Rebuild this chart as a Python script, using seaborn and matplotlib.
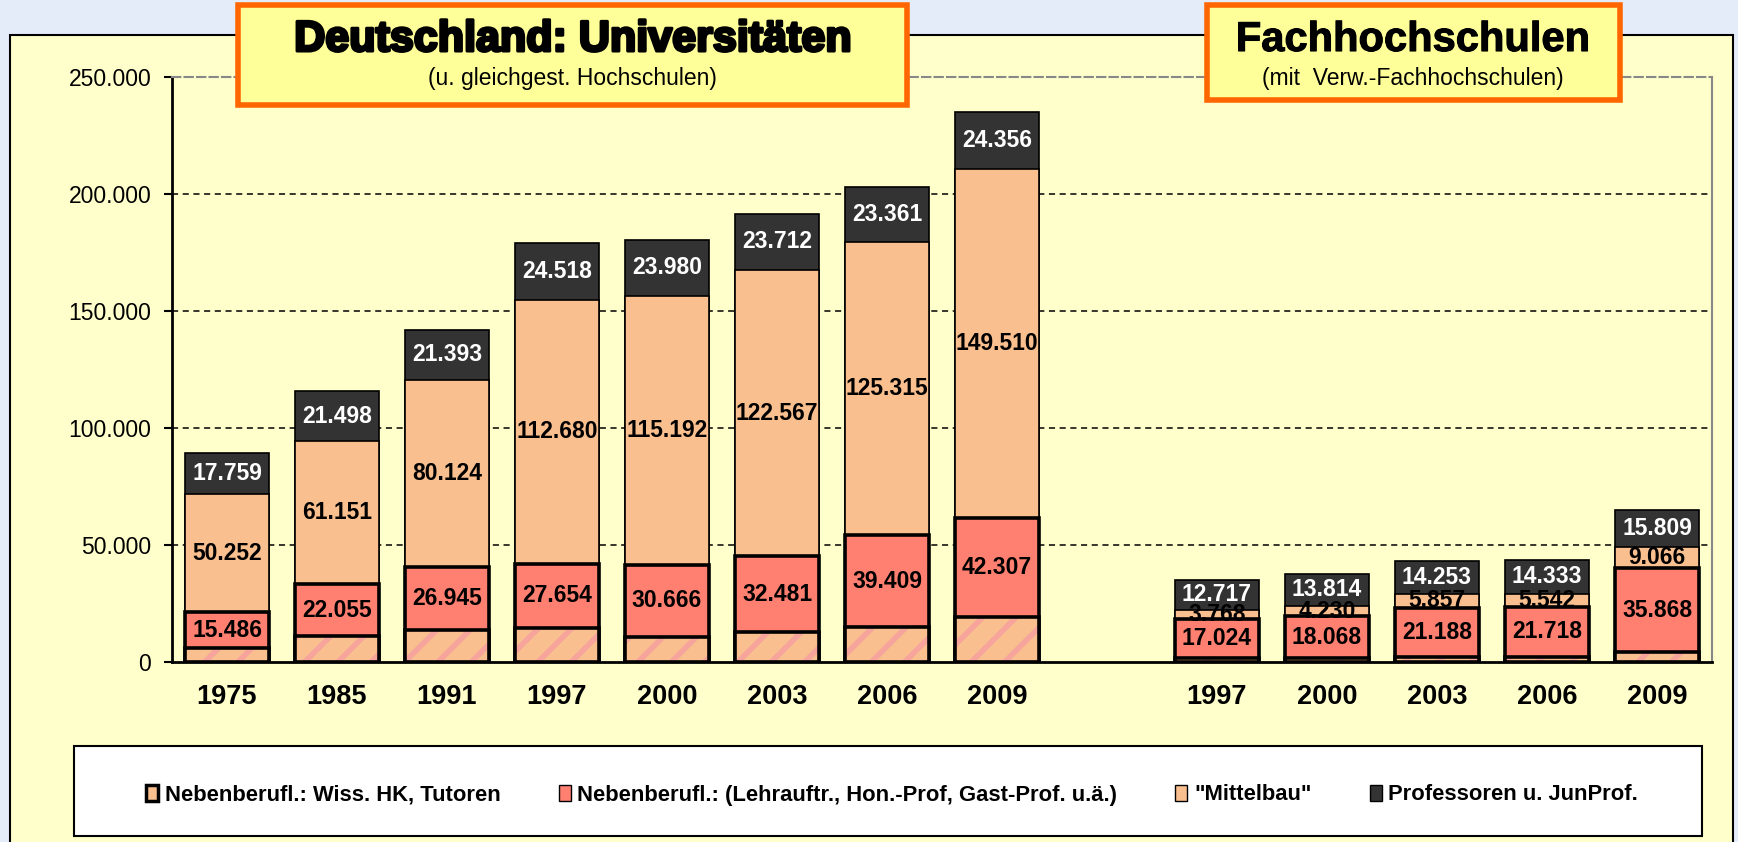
import numpy as np
import pandas as pd
import matplotlib
matplotlib.use("Agg")
import matplotlib.pyplot as plt
import matplotlib.patheffects as pe
from matplotlib.patches import Rectangle, Patch
from matplotlib import font_manager
import seaborn as sns

# Daten (Personal an Hochschulen)
uni_jahre = ["1975", "1985", "1991", "1997", "2000", "2003", "2006", "2009"]
fh_jahre = ["1997", "2000", "2003", "2006", "2009"]

uni_wiss_hk = [5900, 11200, 13600, 14400, 10800, 12700, 14800, 19100]   # geschaetzt, ohne Beschriftung
uni_lehrauftr = [15486, 22055, 26945, 27654, 30666, 32481, 39409, 42307]
uni_mittelbau = [50252, 61151, 80124, 112680, 115192, 122567, 125315, 149510]
uni_prof = [17759, 21498, 21393, 24518, 23980, 23712, 23361, 24356]

fh_wiss_hk = [1500, 1600, 2000, 2000, 4200]   # geschaetzt
fh_lehrauftr = [17024, 18068, 21188, 21718, 35868]
fh_mittelbau = [3768, 4230, 5857, 5542, 9066]
fh_prof = [12717, 13814, 14253, 14333, 15809]

legend_labels = ["Nebenberufl.: Wiss. HK, Tutoren",
                 "Nebenberufl.: (Lehrauftr., Hon.-Prof, Gast-Prof. u.ä.)",
                 '"Mittelbau"',
                 "Professoren u. JunProf."]
y_ticks = [0, 50000, 100000, 150000, 200000, 250000]

# Farben
c_hk = "#F9BF8F"
c_hk_stripe = "#F6A49C"
c_lehr = "#FF7F70"
c_mittel = "#F9BF8F"
c_prof = "#333333"
c_panel = "#FFFFCC"
c_bg = "#E5ECF9"

# Tabelle zusammenbauen
df = pd.DataFrame({
    "slot": ["U" + j for j in uni_jahre] + ["F" + j for j in fh_jahre],
    "jahr": uni_jahre + fh_jahre,
    "hk": uni_wiss_hk + fh_wiss_hk,
    "lehr": uni_lehrauftr + fh_lehrauftr,
    "mittel": uni_mittelbau + fh_mittelbau,
    "prof": uni_prof + fh_prof,
})
df["s1"] = df.hk
df["s2"] = df.s1 + df.lehr
df["s3"] = df.s2 + df.mittel
df["s4"] = df.s3 + df.prof

order = ["U" + j for j in uni_jahre] + ["gap"] + ["F" + j for j in fh_jahre]
tick_names = uni_jahre + [""] + fh_jahre

sns.set_style("white")
avail = {f.name for f in font_manager.fontManager.ttflist}
narrow = "Liberation Sans Narrow" if "Liberation Sans Narrow" in avail else "Liberation Sans"
val_size = 19 if narrow == "Liberation Sans Narrow" else 16.5
plt.rcParams["font.family"] = ["Liberation Sans", "DejaVu Sans"]
plt.rcParams["text.color"] = "black"
plt.rcParams["xtick.color"] = "black"
plt.rcParams["ytick.color"] = "black"
plt.rcParams["hatch.linewidth"] = 4.0

W, H = 1738, 842
fig = plt.figure(figsize=(W / 100, H / 100), dpi=100, facecolor=c_bg)

def fx(px):
    return px / W

def fy(py):
    return 1 - py / H

# gelbe Flaeche mit Rahmen
fig.patches.append(Rectangle((fx(10), -0.01), fx(1733 - 10), fy(35) + 0.01,
                             transform=fig.transFigure, facecolor=c_panel,
                             edgecolor="black", lw=1.5, zorder=-1))

ax = fig.add_axes([fx(172), fy(662), fx(1712 - 172), fy(77.3) - fy(662)])
ax.set_facecolor("none")

bw = 0.76
thin = 1.2
thick = 2.6
sns.barplot(data=df, x="slot", y="s4", order=order, color=c_prof, saturation=1,
            width=bw, edgecolor="black", linewidth=thin, errorbar=None, ax=ax)
sns.barplot(data=df, x="slot", y="s3", order=order, color=c_mittel, saturation=1,
            width=bw, edgecolor="black", linewidth=thin, errorbar=None, ax=ax)
sns.barplot(data=df, x="slot", y="s2", order=order, color=c_lehr, saturation=1,
            width=bw, edgecolor="black", linewidth=thick, errorbar=None, ax=ax)
sns.barplot(data=df, x="slot", y="s1", order=order, color=c_hk, saturation=1,
            width=bw, edgecolor=c_hk_stripe, linewidth=0, hatch="/",
            errorbar=None, ax=ax)
sns.barplot(data=df, x="slot", y="s1", order=order, color="black", fill=False,
            width=bw, linewidth=thick, errorbar=None, ax=ax)

# Werte in die Segmente schreiben
def fmt(v):
    return f"{v:,.0f}".replace(",", ".")

for _, r in df.iterrows():
    xi = order.index(r.slot)
    ax.text(xi, r.s1 + r.lehr / 2, fmt(r.lehr), ha="center", va="center",
            fontsize=val_size, fontweight="bold", family=narrow, color="black", zorder=5)
    ax.text(xi, r.s2 + r.mittel / 2, fmt(r.mittel), ha="center", va="center",
            fontsize=val_size, fontweight="bold", family=narrow, color="black", zorder=5)
    ax.text(xi, r.s3 + r.prof / 2, fmt(r.prof), ha="center", va="center",
            fontsize=val_size, fontweight="bold", family=narrow, color="white", zorder=5)

# Achsen
ax.set_xlim(-0.5, len(order) - 0.5)
ax.set_ylim(0, 250000)
ax.set_xlabel("")
ax.set_ylabel("")
ax.set_xticks(range(len(order)))
ax.set_xticklabels(tick_names, fontsize=19.5, fontweight="bold")
ax.set_xticks(np.arange(-0.5, len(order)), minor=True)
ax.tick_params(axis="x", which="major", length=0, pad=16)
ax.tick_params(axis="x", which="minor", length=6, width=1.5, direction="out", color="black")
ax.set_yticks(y_ticks)
ax.set_yticklabels([fmt(v) for v in y_ticks], fontsize=16.5)
ax.tick_params(axis="y", length=6, width=1.5, direction="out", pad=9, color="black", left=True)
for v in y_ticks[1:-1]:
    ax.axhline(v, color="black", lw=1.1, ls=(0, (4, 3)), zorder=0.5)

for s in ["left", "bottom"]:
    ax.spines[s].set_color("black")
    ax.spines[s].set_linewidth(2)
ax.spines["top"].set_color("#888888")
ax.spines["top"].set_linewidth(1.5)
ax.spines["top"].set_linestyle((0, (4, 2)))
ax.spines["right"].set_color("#888888")
ax.spines["right"].set_linewidth(1.5)

# Titelkaesten
for (x0, x1, y0, y1) in [(238, 907, 5, 105), (1207, 1620, 5, 100)]:
    fig.patches.append(Rectangle((fx(x0), fy(y1)), fx(x1 - x0), fy(y0) - fy(y1),
                                 transform=fig.transFigure, facecolor="#FFFF99",
                                 edgecolor="#FF6600", lw=4, zorder=5))

fig.text(fx(572), fy(40), "Deutschland: Universitäten", ha="center", va="center",
         fontsize=31, fontweight="bold", color="black", zorder=6,
         path_effects=[pe.withStroke(linewidth=2.2, foreground="black")])
fig.text(fx(572), fy(79), "(u. gleichgest. Hochschulen)", ha="center", va="center",
         fontsize=16.5, zorder=6)
fig.text(fx(1413), fy(40), "Fachhochschulen", ha="center", va="center",
         fontsize=30, fontweight="bold", color="black", zorder=6,
         path_effects=[pe.withStroke(linewidth=0.8, foreground="black")])
fig.text(fx(1413), fy(79), "(mit  Verw.-Fachhochschulen)", ha="center", va="center",
         fontsize=16.5, zorder=6)

# Legende
fig.patches.append(Rectangle((fx(74), fy(836)), fx(1702 - 74), fy(746) - fy(836),
                             transform=fig.transFigure, facecolor="white",
                             edgecolor="black", lw=1.5, zorder=1))
handles = [Patch(facecolor=c_hk, edgecolor="black", lw=2.5),
           Patch(facecolor=c_lehr, edgecolor="black", lw=1),
           Patch(facecolor=c_mittel, edgecolor="black", lw=1),
           Patch(facecolor=c_prof, edgecolor="black", lw=1)]
fig.legend(handles, legend_labels, loc="center", bbox_to_anchor=(fx(892), fy(795)),
           ncol=4, frameon=False, columnspacing=2.65, handletextpad=0.3,
           handlelength=0.55, handleheight=0.75,
           prop={"family": "Liberation Sans", "weight": "bold", "size": 15.8})

fig.savefig("out.png", dpi=100, facecolor=c_bg)
